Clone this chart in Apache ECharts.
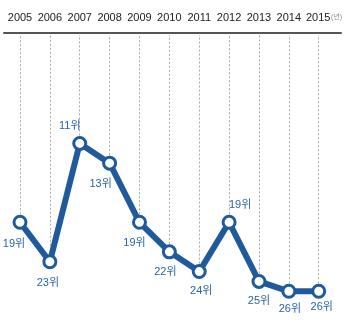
<!DOCTYPE html>
<html>
<head>
<meta charset="utf-8">
<script src="https://cdn.jsdelivr.net/npm/echarts@6/dist/echarts.min.js"></script>
<style>
	html, body { margin: 0; padding: 0; background: #fff; }
	#rank { width: 345px; height: 325px; }
</style>
</head>
<body>
<div id="rank"></div>
<script>
var years = ['2005', '2006', '2007', '2008', '2009', '2010', '2011', '2012', '2013', '2014', '2015'];
var ranks = [19, 23, 11, 13, 19, 22, 24, 19, 25, 26, 26];
// label offsets from each point, style only
var labelOffsets = [[-6, 22], [-2, 21], [-10, -17], [-9, 21], [-5, 21], [-4, 20], [2, 19], [11, -17], [0, 20], [1, 18], [3, 16]];

var chart = echarts.init(document.getElementById('rank'));
var blue = '#1f5b9c';
var font = "'Liberation Sans Narrow', 'Liberation Sans', 'Noto Sans CJK KR', sans-serif";

var points = ranks.map(function(v, i) {
	return {
		value: v,
		label: { offset: labelOffsets[i] }
	};
});

var drops = ranks.map(function(v, i) {
	return [{ coord: [i, v] }, { coord: [i, 0] }];
});

var option = {
	animation: false,
	grid: [
		{ left: 20, right: 22, top: 35, bottom: 14 },
		{ left: 4, right: 4, top: 33, height: 0 }
	],
	xAxis: [{
		type: 'category',
		position: 'top',
		boundaryGap: false,
		data: years,
		axisLine: { show: false },
		axisTick: { show: false },
		axisLabel: {
			interval: 0,
			margin: 12,
			color: '#222',
			fontSize: 11,
			fontFamily: font,
			formatter: function(v) {
				return v === '2015' ? '{p|}' + v + '{u|(년)}' : v;
			},
			rich: {
				p: { width: 10 },
				u: { fontSize: 7, color: '#888', fontFamily: font, width: 10, padding: [0, 0, 0, 1] }
			}
		},
		splitLine: { show: false }
	}, {
		type: 'category',
		gridIndex: 1,
		position: 'top',
		data: years,
		axisLine: { lineStyle: { color: '#555', width: 2 } },
		axisTick: { show: false },
		axisLabel: { show: false }
	}],
	yAxis: [{
		type: 'value',
		inverse: true,
		min: 0,
		max: 28,
		show: false,
		splitLine: { show: false }
	}, {
		type: 'value',
		gridIndex: 1,
		show: false
	}],
	series: [{
		type: 'line',
		data: points,
		lineStyle: { color: blue, width: 6 },
		symbol: 'circle',
		symbolSize: 12,
		itemStyle: { color: '#fff', borderColor: blue, borderWidth: 3 },
		label: {
			show: true,
			position: 'inside',
			formatter: '{c}위',
			color: '#2b64a3',
			fontSize: 11,
			fontFamily: font
		},
		markLine: {
			silent: true,
			symbol: 'none',
			label: { show: false },
			lineStyle: { color: '#aaa', type: [2, 2], width: 1 },
			data: drops,
			z: 1
		},
		z: 3
	}]
};
chart.setOption(option);
</script>
</body>
</html>
